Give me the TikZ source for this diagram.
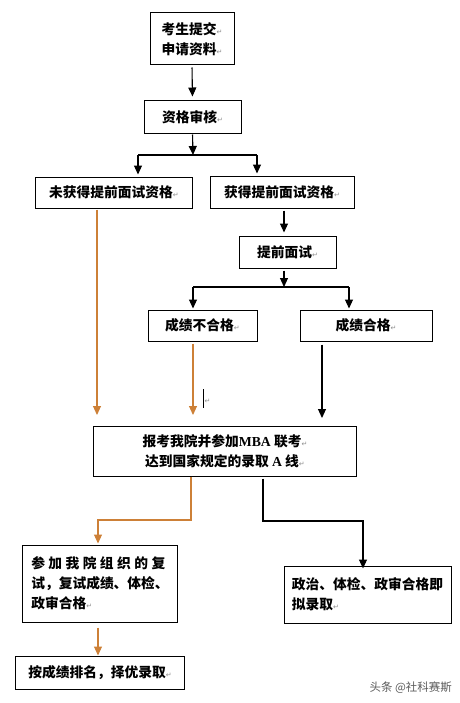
\documentclass[tikz,border=0pt]{standalone}
\usepackage{fontspec}
\setmainfont{Noto Sans CJK SC}
\newfontfamily\latfont{Liberation Serif}
\newfontfamily\symfont{DejaVu Sans}
\usetikzlibrary{arrows.meta}
\definecolor{orng}{RGB}{205,128,55}
\definecolor{wmgray}{RGB}{90,90,90}
\newcommand\retmark{{\symfont\mdseries\color{black!45}\fontsize{7}{7}\selectfont ↵}}
\begin{document}
\begin{tikzpicture}[x=1bp,y=-1bp,
  box/.style={draw, line width=1bp, inner sep=0pt, align=center,
    font=\fontsize{13.8}{20}\selectfont\bfseries},
  arr/.style={-{Triangle[length=9bp,width=8bp]}, line width=1.1bp, black},
  oarr/.style={-{Triangle[length=9bp,width=8bp]}, line width=1.1bp, orng},
  ln/.style={line width=1.1bp}]
\useasboundingbox (0,0) rectangle (460,703);
% boxes
\node[box, minimum width=84bp, minimum height=52bp] (b1) at (192,39) {考生提交\retmark\\申请资料\retmark};
\node[box, minimum width=97bp, minimum height=32bp] (b2) at (192.5,117) {资格审核\retmark};
\node[box, minimum width=156bp, minimum height=31bp] (b3) at (114,192.5) {未获得提前面试资格\retmark};
\node[box, minimum width=144bp, minimum height=32bp] (b4) at (282,192) {获得提前面试资格\retmark};
\node[box, minimum width=97bp, minimum height=32bp] (b5) at (287.5,252) {提前面试\retmark};
\node[box, minimum width=109bp, minimum height=31bp] (b6) at (202.5,325.5) {成绩不合格\retmark};
\node[box, minimum width=132bp, minimum height=31bp] (b7) at (366,325.5) {成绩合格\retmark};
\node[box, minimum width=262bp, minimum height=50bp] (b8) at (225,451) {报考我院并参加{\latfont\bfseries MBA} 联考\retmark\\达到国家规定的录取 {\latfont\bfseries A} 线\retmark};
\node[box, align=left, minimum width=154bp, minimum height=77bp] (b9) at (100,583.5)
  {\makebox[134bp][s]{参\hfill 加\hfill 我\hfill 院\hfill 组\hfill 织\hfill 的\hfill 复}\\试，复试成绩、体检、\\政审合格\retmark};
\node[box, align=left, minimum width=167bp, minimum height=57bp] (b10) at (367.5,594.5)
  {政治、体检、政审合格即\\拟录取\retmark};
\node[box, minimum width=168bp, minimum height=33bp] (b11) at (100,672.5) {按成绩排名，择优录取\retmark};
% connectors
\draw[arr, shorten <=2bp, shorten >=4bp] (b1.south) -- (b2.north);
\coordinate (j1) at (193,155);
\coordinate (l1) at (138,155);
\coordinate (r1) at (257,155);
\draw[arr, shorten <=1bp] (b2.south) -- (j1);
\draw[ln] (l1) -- (r1);
\draw[arr, shorten >=2bp] (l1) -- (l1 |- b3.north);
\draw[arr, shorten >=2bp] (r1) -- (r1 |- b4.north);
\draw[arr, shorten <=2bp, shorten >=3bp] (b4.south -| 284,0) -- (b5.north -| 284,0);
\coordinate (j2) at (284,287);
\coordinate (l2) at (193,287);
\coordinate (r2) at (349,287);
\draw[arr, shorten <=2bp] (b5.south -| j2) -- (j2);
\draw[ln] (l2) -- (r2);
\draw[arr, shorten >=1bp] (l2) -- (l2 |- b6.north);
\draw[arr, shorten >=1bp] (r2) -- (r2 |- b7.north);
\coordinate (t3) at (97,415);
\coordinate (t6) at (193,415);
\coordinate (t7) at (322,418);
\draw[oarr, shorten <=1bp] (t3 |- b3.south) -- (t3);
\draw[oarr, shorten <=2bp] (t6 |- b6.south) -- (t6);
\draw[arr, shorten <=3bp] (t7 |- b7.south) -- (t7);
\coordinate (e8) at (191,520);
\coordinate (e9) at (98,520);
\draw[oarr] (e8 |- b8.south) -- (e8) -- (e9) -- ([yshift=1bp]e9 |- b9.north);
\coordinate (f8) at (263,521);
\coordinate (f10) at (363,521);
\draw[arr, shorten <=2bp] (f8 |- b8.south) -- (f8) -- (f10) -- ([yshift=-3bp]f10 |- b10.north);
\coordinate (g9) at (98,627);
\draw[oarr, shorten <=5bp] (g9 |- b9.south) -- (g9 |- b11.north);
% stray cursor mark
\draw[line width=0.8bp] (203,389) -- (203,408);
\node[inner sep=0pt] at (207.5,401) {\retmark};
% watermark
\node[anchor=east, inner sep=0pt, text=wmgray, font=\fontsize{11.5}{12}\selectfont] at (452,688) {头条 @社科赛斯};
\end{tikzpicture}
\end{document}
